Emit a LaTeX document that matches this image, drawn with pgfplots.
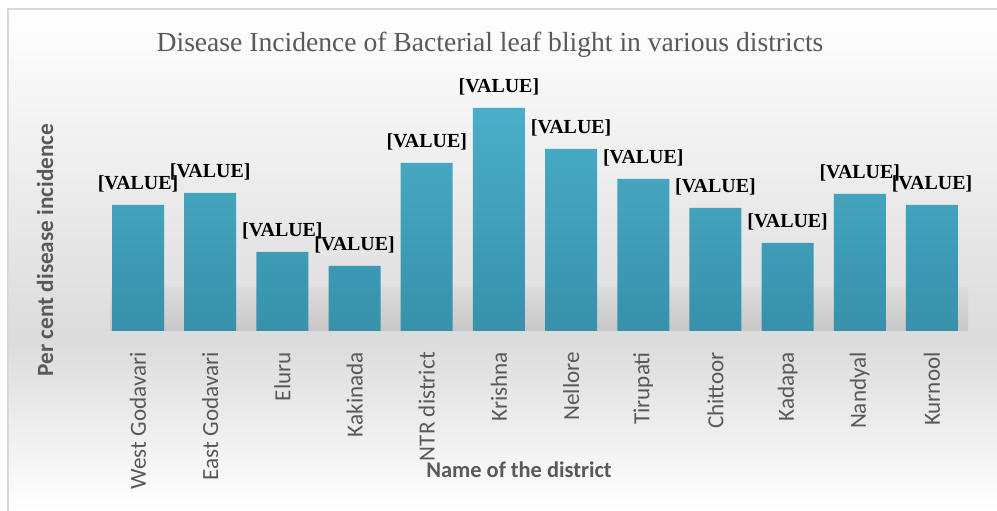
\documentclass[border=0pt]{standalone}
\usepackage{pgfplots}
\pgfplotsset{compat=1.18}
\usepackage{fontspec}
\setmainfont{Liberation Serif}
\newfontfamily\calibri{Carlito}
\definecolor{txtgray}{HTML}{595959}
\definecolor{bartop}{HTML}{4BAEC8}
\definecolor{barbot}{HTML}{3791AB}
\begin{document}
\begin{tikzpicture}
\useasboundingbox (0bp,0bp) rectangle (997bp,511bp);
\fill[white] (0bp,0bp) rectangle (997bp,511bp);
\shade[top color=white, bottom color=black!14] (8bp,171bp) rectangle (997bp,502bp);
\shade[top color=black!14, bottom color=white] (8bp,0bp) rectangle (997bp,171bp);
\shade[top color=black!14, middle color=black!40, bottom color=black!22] (110bp,180bp) rectangle (968bp,223bp);
\draw[black!15, line width=1.5bp] (8bp,-5bp) rectangle (1005bp,502bp);
\node[font=\fontsize{27.7}{32}\selectfont, text=txtgray] at (490bp,466bp) {Disease Incidence of Bacterial leaf blight in various districts};
\node[rotate=90, font=\calibri\bfseries\fontsize{23.3}{26}\selectfont, text=txtgray] at (45bp,261bp) {Per cent disease incidence};
\node[font=\calibri\bfseries\fontsize{22.5}{26}\selectfont, text=txtgray] at (519bp,41bp) {Name of the district};
\begin{axis}[
  at={(87.5bp,180bp)}, anchor=south west, scale only axis,
  width=895bp, height=241bp,
  xmin=-0.7, xmax=11.7, ymin=0, ymax=48.2, enlargelimits=false,
  ybar, bar width=52bp,
  axis line style={draw=none}, major tick length=0pt, ytick=\empty,
  xtick=data,
  xticklabels={West Godavari, East Godavari, Eluru, Kakinada, NTR district, Krishna, Nellore, Tirupati, Chittoor, Kadapa, Nandyal, Kurnool},
  xticklabel style={rotate=90, anchor=east, inner sep=0pt, font=\calibri\fontsize{23.2}{26}\selectfont, text=txtgray},
  xticklabel shift=21bp,
  nodes near coords={[VALUE]},
  every node near coord/.append style={font=\bfseries\fontsize{20}{22}\selectfont, text=black, anchor=south, inner sep=0pt, yshift=13bp},
]
\addplot[draw=none, top color=bartop, bottom color=barbot] coordinates {
(0,25.2) (1,27.6) (2,15.8) (3,13.0) (4,33.6) (5,44.6) (6,36.4) (7,30.4) (8,24.6) (9,17.6) (10,27.4) (11,25.2)};
\end{axis}
\end{tikzpicture}
\end{document}
